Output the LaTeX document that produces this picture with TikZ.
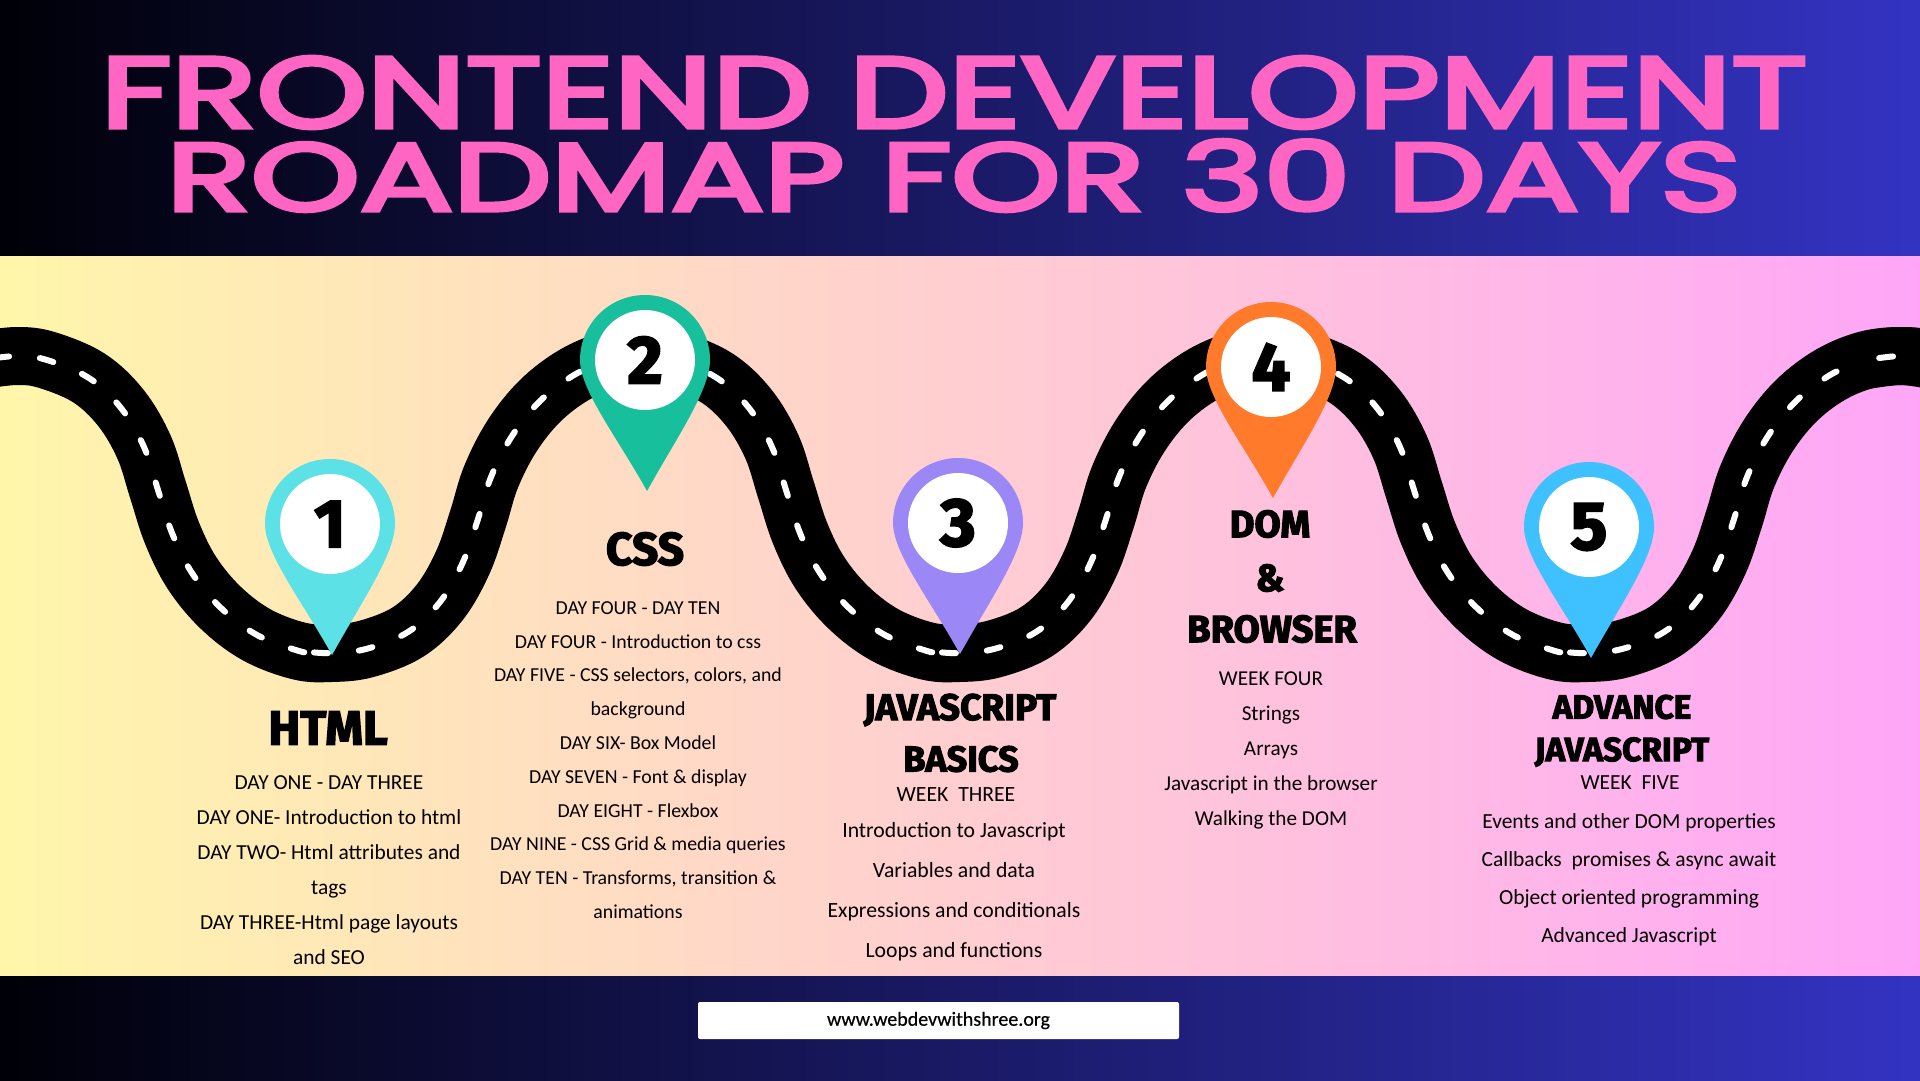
\documentclass[tikz,border=0pt]{standalone}
\usepackage{fontspec}
\usepackage{graphicx}
\setmainfont{Carlito}
\newfontfamily\titlefont{Poppins}[FakeBold=4]
\newfontfamily\headfont{Fira Sans}[BoldFeatures={FakeBold=3}]
\newfontfamily\addrfont{Carlito}[FakeBold=0.4]
\usetikzlibrary{positioning}

\definecolor{bandleft}{RGB}{0,0,8}
\definecolor{bandright}{RGB}{51,51,195}
\definecolor{paperleft}{RGB}{255,246,170}
\definecolor{paperright}{RGB}{255,166,248}
\definecolor{titlepink}{RGB}{255,102,196}
\definecolor{pinA}{RGB}{92,225,230}
\definecolor{pinB}{RGB}{23,191,156}
\definecolor{pinC}{RGB}{155,135,245}
\definecolor{pinD}{RGB}{255,122,43}
\definecolor{pinE}{RGB}{63,193,255}

\tikzset{
    pinface/.style={circle, fill=white, minimum size=100pt, inner sep=0pt, font=\headfont\bfseries\fontsize{68}{68}\selectfont},
    heading/.style={inner sep=0pt, font=\headfont\bfseries\fontsize{#1}{#1}\selectfont},
    bodytext/.style n args={2}{inner sep=0pt, align=center, font=\fontsize{#1}{#2}\selectfont},
    roadbed/.style={line width=58pt, black},
    roadmark/.style={line width=6pt, white, line cap=round, dash pattern=on 14pt off 31pt},
}

\def\roadleft{(-18,360) (17,356) (47,360) (89,378) (121,408) (144,447) (158,490) (172,533) (192,573) (221,608) (257,635) (299,651) (310,652)}
\def\roadright{(310,652) (331,653) (366,649) (408,632) (440,602) (463,562) (478,519) (491,477) (512,436) (540,401) (574,375) (600,364)}
\def\roadpoints{(-18,360) (17,356) (47,360) (89,378) (121,408) (144,447) (158,490) (172,533) (192,573) (221,608) (257,635) (299,651) (331,653) (366,649) (408,632) (440,602) (463,562) (478,519) (491,477) (512,436) (540,401) (574,375) (610,360) (645,356) (675,360)}

\begin{document}
\begin{tikzpicture}[x=1pt, y=-1pt]
    \useasboundingbox (0,0) rectangle (1920,1080);

    % Bands
    \shade[left color=bandleft, right color=bandright] (0,0) rectangle (1920,257);
    \shade[left color=paperleft, right color=paperright] (0,256) rectangle (1920,977);
    \shade[left color=bandleft, right color=bandright] (0,976) rectangle (1920,1080);

    % Title
    \node[inner sep=0pt, text=titlepink] (titleone) at (954,92.5) {\resizebox{1706pt}{71pt}{\titlefont FRONTEND DEVELOPMENT}};
    \node[inner sep=0pt, text=titlepink] (titletwo) at (954,175.5) {\resizebox{1574pt}{71pt}{\titlefont ROADMAP FOR 30 DAYS}};

    % Road
    \begin{scope}
        \clip (0,256) rectangle (1920,977);
        \foreach \i in {0,1,2,3} {
            \begin{scope}[xshift=\i*628pt]
                \draw[roadbed] plot[smooth, tension=0.6] coordinates {\roadpoints};
                \draw[roadmark, dash phase=31.7pt] plot[smooth, tension=0.6] coordinates {\roadleft};
                \draw[roadmark, dash phase=41pt] plot[smooth, tension=0.6] coordinates {\roadright};
            \end{scope}
        }
    \end{scope}

    % Pins
    \foreach \cx/\cy/\pincol/\num in {330/524/pinA/1, 645/360/pinB/2, 958/523/pinC/3, 1271/367/pinD/4, 1589/527/pinE/5} {
        \fill[\pincol] (\cx+2,\cy+131) .. controls (\cx-28,\cy+77) and (\cx-65,\cy+30) .. (\cx-65,\cy)
            arc[start angle=180, end angle=0, radius=65pt]
            .. controls (\cx+65,\cy+30) and (\cx+32,\cy+77) .. cycle;
        \node[pinface] (pin\num) at (\cx,\cy) {\num};
    }

    % HTML
    \node[heading=48] (htmlhead) at (328,728) {HTML};
    \node[bodytext={21.4}{35}] (htmlbody) at (329,870) {DAY ONE - DAY THREE\\DAY ONE- Introduction to html\\DAY TWO- Html attributes and\\tags\\DAY THREE-Html page layouts\\and SEO};

    % CSS
    \node[heading=46] (csshead) at (645,549) {CSS};
    \node[bodytext={19.8}{33.8}] (cssbody) at (638,760) {DAY FOUR - DAY TEN\\DAY FOUR - Introduction to css\\DAY FIVE - CSS selectors, colors, and\\background\\DAY SIX- Box Model\\DAY SEVEN - Font \& display\\DAY EIGHT - Flexbox\\DAY NINE - CSS Grid \& media queries\\DAY TEN - Transforms, transition \&\\animations};

    % Javascript basics
    \node[heading=37] (jshead) at (960,710) {JAVASCRIPT};
    \node[heading=36] (jsheadtwo) at (961,759) {BASICS};
    \node[bodytext={21.7}{35}] (jsweek) at (956,795) {WEEK\ \ THREE};
    \node[bodytext={21.7}{40}] (jsbody) at (954,892) {Introduction to Javascript\\Variables and data\\Expressions and conditionals\\Loops and functions};

    % DOM
    \node[heading=38] (domhead) at (1270,524) {DOM};
    \node[heading=38] (domand) at (1270,578) {\&};
    \node[heading=38] (domheadtwo) at (1272,629) {BROWSER};
    \node[bodytext={21.2}{35}] (dombody) at (1271,750) {WEEK FOUR\\Strings\\Arrays\\Javascript in the browser\\Walking the DOM};

    % Advance javascript
    \node[heading=33.5] (advhead) at (1622,707) {ADVANCE};
    \node[heading=33.5] (advheadtwo) at (1622,752) {JAVASCRIPT};
    \node[bodytext={21.5}{35}] (advweek) at (1630,783) {WEEK\ \ FIVE};
    \node[bodytext={21.5}{38}] (advbody) at (1629,880) {Events and other DOM properties\\Callbacks\ \ promises \& async await\\Object oriented programming\\Advanced Javascript};

    % Address
    \node[fill=white, rounded corners=2pt, minimum width=481pt, minimum height=37pt, inner sep=0pt, font=\addrfont\fontsize{20}{22}\selectfont] (address) at (938.5,1020.5) {www.webdevwithshree.org};
\end{tikzpicture}
\end{document}
